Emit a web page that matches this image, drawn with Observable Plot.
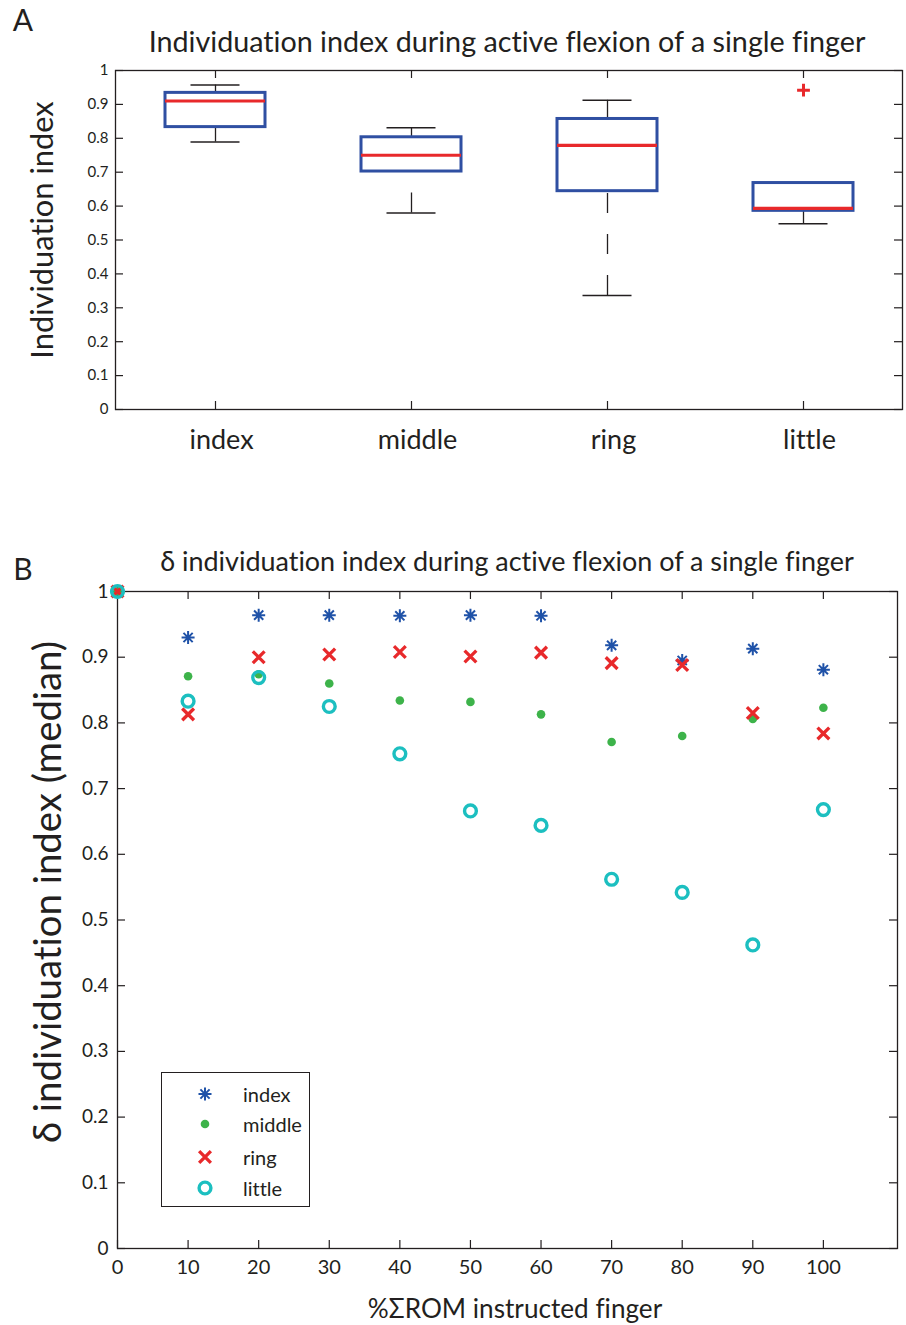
<!DOCTYPE html>
<html><head><meta charset="utf-8">
<script src="https://cdn.jsdelivr.net/npm/d3@7"></script>
<script src="https://cdn.jsdelivr.net/npm/@observablehq/plot@0.6"></script>
<style>
body{margin:0;background:#fff;}
#root{position:relative;width:906px;height:1325px;font-family:Lato,sans-serif;color:#231f20;overflow:hidden;font-variant-ligatures:none;}
#root svg text{font-variant-ligatures:none;}
.lbl{position:absolute;white-space:nowrap;line-height:1;}
.chart{position:absolute;left:0;}
</style></head><body><div id="root"></div>
<script>
// ---------- Panel A data ----------
const fingers = ["index", "middle", "ring", "little"];
const whiskerLow  = [0.789, 0.580, 0.336, 0.548];
const quartile1   = [0.833, 0.702, 0.644, 0.586];
const medians     = [0.910, 0.750, 0.779, 0.593];
const quartile3   = [0.934, 0.803, 0.857, 0.668];
const whiskerHigh = [0.957, 0.831, 0.912, 0.668];
const outlierFinger = ["little"];
const outlierValue  = [0.942];
const yTicksA = [0, 0.1, 0.2, 0.3, 0.4, 0.5, 0.6, 0.7, 0.8, 0.9, 1];

// ---------- Panel B data ----------
const pctROM = [0, 10, 20, 30, 40, 50, 60, 70, 80, 90, 100];
const indexSeries  = [1, 0.930, 0.964, 0.964, 0.963, 0.964, 0.963, 0.918, 0.895, 0.913, 0.881];
const middleSeries = [1, 0.871, 0.874, 0.860, 0.834, 0.832, 0.813, 0.771, 0.780, 0.806, 0.823];
const ringSeries   = [1, 0.813, 0.900, 0.904, 0.908, 0.901, 0.907, 0.891, 0.888, 0.815, 0.784];
const littleSeries = [1, 0.833, 0.869, 0.825, 0.753, 0.666, 0.644, 0.562, 0.542, 0.462, 0.668];
const seriesNames = ["index", "middle", "ring", "little"];
const xTicksB = [0, 10, 20, 30, 40, 50, 60, 70, 80, 90, 100];
const yTicksB = [0, 0.1, 0.2, 0.3, 0.4, 0.5, 0.6, 0.7, 0.8, 0.9, 1];

// ---------- Text ----------
const panelLabels = ["A", "B"];
const titleA = "Individuation index during active flexion of a single finger";
const yLabelA = "Individuation index";
const titleB = "\u03b4 individuation index during active flexion of a single finger";
const yLabelB = "\u03b4 individuation index (median)";
const xLabelB = "%\u03a3ROM instructed finger";

// ---------- Styles ----------
const INK = "#231f20";
const BOX_BLUE = "#2f4fa2";
const RED = "#e8292b";
const BLUE = "#1f52a8";
const GREEN = "#3db34a";
const CYAN = "#1cbfc0";
const FONT = "Lato, sans-serif";

const root = document.getElementById("root");

// 8-armed asterisk (MATLAB '*')
const asterisk = {
  draw(context, size) {
    const r = Math.sqrt(size / Math.PI);
    const d = r * Math.SQRT1_2;
    context.moveTo(-r, 0); context.lineTo(r, 0);
    context.moveTo(0, -r); context.lineTo(0, r);
    context.moveTo(-d, -d); context.lineTo(d, d);
    context.moveTo(-d, d); context.lineTo(d, -d);
  }
};

const fmt = d => String(+(+d).toFixed(1));

// ---------- Panel A ----------
const boxRows = fingers.map((f, i) => ({
  finger: f, lo: whiskerLow[i], q1: quartile1[i], med: medians[i], q3: quartile3[i], hi: whiskerHigh[i]
}));
const outlierRows = outlierFinger.map((f, i) => ({finger: f, value: outlierValue[i]}));

const A = {width: 906, height: 480, top: 70, bottom: 71, left: 115, right: 4};
const fwA = A.width - A.left - A.right, fhA = A.height - A.top - A.bottom;
const tickLen = 8;

const plotA = Plot.plot({
  width: A.width, height: A.height,
  marginTop: A.top, marginBottom: A.bottom, marginLeft: A.left, marginRight: A.right,
  style: {fontFamily: FONT, fontSize: "15px", color: INK, background: "transparent"},
  x: {type: "band", domain: fingers, paddingInner: 0.492, paddingOuter: 0.246, label: null},
  y: {domain: [0, 1], label: null},
  marks: [
    Plot.ruleX(boxRows, {x: "finger", y1: "lo", y2: "q1", stroke: INK, strokeWidth: 1.3, strokeDasharray: "20,21"}),
    Plot.ruleX(boxRows, {x: "finger", y1: "hi", y2: "q3", stroke: INK, strokeWidth: 1.3, strokeDasharray: "20,21"}),
    Plot.tickY(boxRows, {x: "finger", y: "lo", stroke: INK, strokeWidth: 1.5, insetLeft: 25.5, insetRight: 25.5}),
    Plot.tickY(boxRows, {x: "finger", y: "hi", stroke: INK, strokeWidth: 1.5, insetLeft: 25.5, insetRight: 25.5}),
    Plot.barY(boxRows, {x: "finger", y1: "q1", y2: "q3", fill: "none", stroke: BOX_BLUE, strokeWidth: 3}),
    Plot.tickY(boxRows, {x: "finger", y: "med", stroke: RED, strokeWidth: 3.2}),
    Plot.dot(outlierRows, {x: "finger", y: "value", symbol: "plus", stroke: RED, strokeWidth: 3, r: 4.2}),
    Plot.frame({stroke: INK, strokeWidth: 1.3}),
    Plot.ruleY(yTicksA, {y: d => d, insetRight: fwA - tickLen, stroke: INK, strokeWidth: 1.2}),
    Plot.ruleY(yTicksA, {y: d => d, insetLeft: fwA - tickLen, stroke: INK, strokeWidth: 1.2}),
    Plot.ruleX(fingers, {x: d => d, insetTop: fhA - tickLen, stroke: INK, strokeWidth: 1.2}),
    Plot.ruleX(fingers, {x: d => d, insetBottom: fhA - tickLen, stroke: INK, strokeWidth: 1.2}),
    Plot.axisY(yTicksA, {tickSize: 0, tickPadding: 7, tickFormat: fmt, fontSize: 15, label: null}),
    Plot.axisX({tickSize: 0, tickPadding: 20, fontSize: 27, label: null, dx: 6})
  ]
});
plotA.classList.add("chart");
plotA.style.top = "0px";
root.appendChild(plotA);

// ---------- Panel B ----------
const mk = vals => pctROM.map((x, i) => ({x, y: vals[i]}));
const B = {width: 906, height: 825, top: 91, bottom: 77, left: 117, right: 9, offset: 500};
const fwB = B.width - B.left - B.right, fhB = B.height - B.top - B.bottom;

const plotB = Plot.plot({
  width: B.width, height: B.height,
  marginTop: B.top, marginBottom: B.bottom, marginLeft: B.left, marginRight: B.right,
  style: {fontFamily: FONT, fontSize: "19px", color: INK, background: "transparent"},
  x: {domain: [0, 110.5], label: null},
  y: {domain: [0, 1], label: null},
  marks: [
    Plot.frame({stroke: INK, strokeWidth: 1.3}),
    Plot.ruleX(xTicksB, {x: d => d, insetTop: fhB - tickLen, stroke: INK, strokeWidth: 1.2}),
    Plot.ruleX(xTicksB, {x: d => d, insetBottom: fhB - tickLen, stroke: INK, strokeWidth: 1.2}),
    Plot.ruleY(yTicksB, {y: d => d, insetRight: fwB - tickLen, stroke: INK, strokeWidth: 1.2}),
    Plot.ruleY(yTicksB, {y: d => d, insetLeft: fwB - tickLen, stroke: INK, strokeWidth: 1.2}),
    Plot.dot(mk(indexSeries), {x: "x", y: "y", symbol: asterisk, stroke: BLUE, strokeWidth: 2, r: 6.5}),
    Plot.dot(mk(middleSeries), {x: "x", y: "y", fill: GREEN, r: 4.3}),
    Plot.dot(mk(ringSeries), {x: "x", y: "y", symbol: "times", stroke: RED, strokeWidth: 3.3, r: 5.4}),
    Plot.dot(mk(littleSeries), {x: "x", y: "y", symbol: "circle", fill: "none", stroke: CYAN, strokeWidth: 3.4, r: 5.9}),
    Plot.axisY(yTicksB, {tickSize: 0, tickPadding: 9, tickFormat: fmt, fontSize: 19, label: null}),
    Plot.axisX(xTicksB, {tickSize: 0, tickPadding: 11, fontSize: 20, label: null})
  ]
});
plotB.classList.add("chart");
plotB.style.top = B.offset + "px";
root.appendChild(plotB);

// ---------- HTML labels ----------
const canvas = document.createElement("canvas").getContext("2d");
function fitSize(text, target, base = 30) {
  canvas.font = `${base}px Lato`;
  return base * target / canvas.measureText(text).width;
}
function label(text, {cx, cy, len, size, rotate = false}) {
  const el = document.createElement("div");
  el.className = "lbl";
  el.textContent = text;
  const fs = size || fitSize(text, len);
  el.style.fontSize = fs + "px";
  el.style.left = cx + "px";
  el.style.top = cy + "px";
  el.style.transform = `translate(-50%,-50%)${rotate ? " rotate(-90deg)" : ""}`;
  root.appendChild(el);
  return el;
}
label(panelLabels[0], {cx: 23, cy: 19, size: 30});
label(panelLabels[1], {cx: 23, cy: 568, size: 30});
label(titleA, {cx: 507, cy: 41, len: 718});
label(yLabelA, {cx: 42, cy: 230, len: 258, rotate: true});
label(titleB, {cx: 507, cy: 561, len: 695});
label(yLabelB, {cx: 46, cy: 892, len: 503, rotate: true});
label(xLabelB, {cx: 515, cy: 1308, len: 294});

// ---------- Legend ----------
const legend = document.createElement("div");
Object.assign(legend.style, {position: "absolute", left: "161px", top: "1072px", width: "149px", height: "135px",
  border: `1.3px solid ${INK}`, boxSizing: "border-box", background: "#fff"});
root.appendChild(legend);
const legendSymbols = [
  {type: asterisk, r: 6.5, stroke: BLUE, sw: 2, fill: "none"},
  {type: d3.symbolCircle, r: 4.3, stroke: "none", sw: 0, fill: GREEN},
  {type: d3.symbolTimes, r: 5.4, stroke: RED, sw: 3.3, fill: "none"},
  {type: d3.symbolCircle, r: 5.9, stroke: CYAN, sw: 3.4, fill: "none"}
];
const rowY = [21, 51, 84, 115];
seriesNames.forEach((name, i) => {
  const s = legendSymbols[i];
  const svg = d3.create("svg").attr("width", 24).attr("height", 24)
    .style("position", "absolute").style("left", (204 - 161 - 12) + "px").style("top", (rowY[i] - 12) + "px");
  svg.append("path")
    .attr("transform", "translate(12,12)")
    .attr("d", d3.symbol(s.type, Math.PI * s.r * s.r)())
    .attr("fill", s.fill).attr("stroke", s.stroke).attr("stroke-width", s.sw);
  legend.appendChild(svg.node());
  const t = document.createElement("div");
  t.className = "lbl";
  t.textContent = name;
  Object.assign(t.style, {left: (242 - 161) + "px", top: rowY[i] + "px", fontSize: "20px", transform: "translateY(-50%)"});
  legend.appendChild(t);
});
</script>
</body></html>
